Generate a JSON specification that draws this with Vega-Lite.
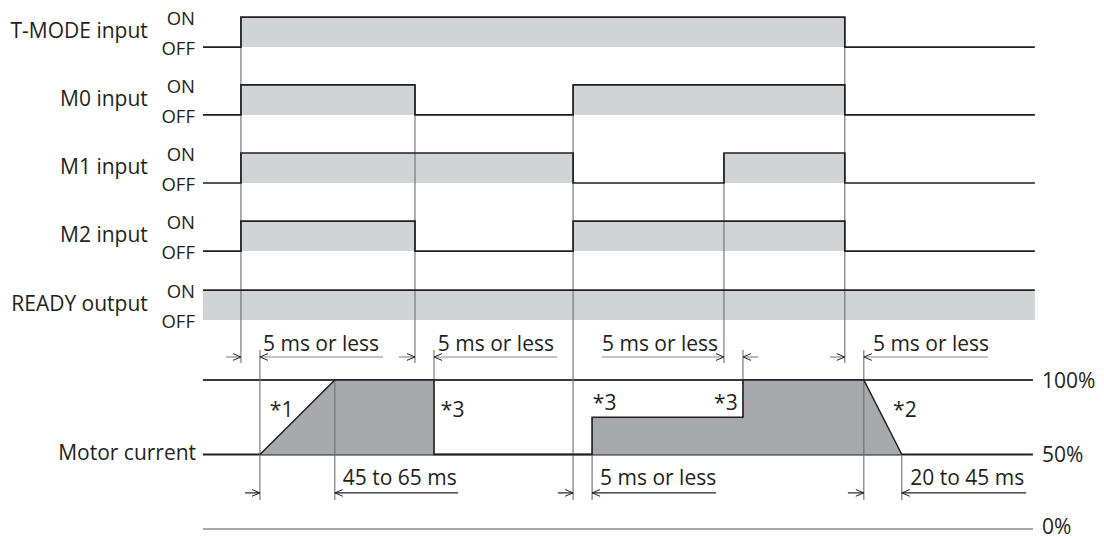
{
  "$schema": "https://vega.github.io/schema/vega-lite/v6.json",
  "width": 1104,
  "height": 540,
  "padding": 0,
  "autosize": {"type": "none"},
  "background": "white",
  "config": {"view": {"stroke": null}, "text": {"font": "Open Sans", "color": "#231f20"}},
  "datasets": {
    "signals": [
      {"signal": "T-MODE input", "t": -10, "y": 16.43},
      {"signal": "T-MODE input", "t": 0, "y": 17.43},
      {"signal": "T-MODE input", "t": 158.9, "y": 16.43},
      {"signal": "T-MODE input", "t": 208.9, "y": 16.43},
      {"signal": "M0 input", "t": -10, "y": 14.17},
      {"signal": "M0 input", "t": 0, "y": 15.17},
      {"signal": "M0 input", "t": 45.8, "y": 14.17},
      {"signal": "M0 input", "t": 87.4, "y": 15.17},
      {"signal": "M0 input", "t": 158.9, "y": 14.17},
      {"signal": "M0 input", "t": 208.9, "y": 14.17},
      {"signal": "M1 input", "t": -10, "y": 11.9},
      {"signal": "M1 input", "t": 0, "y": 12.9},
      {"signal": "M1 input", "t": 87.4, "y": 11.9},
      {"signal": "M1 input", "t": 127.1, "y": 12.9},
      {"signal": "M1 input", "t": 158.9, "y": 11.9},
      {"signal": "M1 input", "t": 208.9, "y": 11.9},
      {"signal": "M2 input", "t": -10, "y": 9.63},
      {"signal": "M2 input", "t": 0, "y": 10.63},
      {"signal": "M2 input", "t": 45.8, "y": 9.63},
      {"signal": "M2 input", "t": 87.4, "y": 10.63},
      {"signal": "M2 input", "t": 158.9, "y": 9.63},
      {"signal": "M2 input", "t": 208.9, "y": 9.63},
      {"signal": "READY output", "t": -10, "y": 8.33},
      {"signal": "READY output", "t": 208.9, "y": 8.33}
    ],
    "bands": [
      {"signal": "T-MODE input", "t0": 0, "t1": 158.9, "yOff": 16.43, "yOn": 17.43},
      {"signal": "M0 input", "t0": 0, "t1": 45.8, "yOff": 14.17, "yOn": 15.17},
      {"signal": "M0 input", "t0": 87.4, "t1": 158.9, "yOff": 14.17, "yOn": 15.17},
      {"signal": "M1 input", "t0": 0, "t1": 87.4, "yOff": 11.9, "yOn": 12.9},
      {"signal": "M1 input", "t0": 127.1, "t1": 158.9, "yOff": 11.9, "yOn": 12.9},
      {"signal": "M2 input", "t0": 0, "t1": 45.8, "yOff": 9.63, "yOn": 10.63},
      {"signal": "M2 input", "t0": 87.4, "t1": 158.9, "yOff": 9.63, "yOn": 10.63},
      {"signal": "READY output", "t0": -10, "t1": 208.9, "yOff": 7.33, "yOn": 8.33}
    ],
    "guides": [
      {"t": 0, "yTop": 17.43, "yBottom": 5.9},
      {"t": 45.8, "yTop": 15.17, "yBottom": 5.9},
      {"t": 87.4, "yTop": 15.17, "yBottom": 1.33},
      {"t": 127.1, "yTop": 12.9, "yBottom": 5.9},
      {"t": 158.9, "yTop": 17.43, "yBottom": 5.9},
      {"t": 5.0, "yTop": 6.33, "yBottom": 1.33},
      {"t": 24.7, "yTop": 5.33, "yBottom": 1.33},
      {"t": 50.8, "yTop": 6.33, "yBottom": 2.83},
      {"t": 92.4, "yTop": 4.1, "yBottom": 1.33},
      {"t": 132.1, "yTop": 6.33, "yBottom": 4.1},
      {"t": 163.9, "yTop": 6.33, "yBottom": 1.33},
      {"t": 173.9, "yTop": 2.83, "yBottom": 1.33}
    ],
    "dims": [
      {"row": "top", "t0": -3.9, "t1": 0, "y": 6.1},
      {"row": "top", "t0": 5.0, "t1": 37.4, "y": 6.1},
      {"row": "top", "t0": 41.6, "t1": 45.8, "y": 6.1},
      {"row": "top", "t0": 50.8, "t1": 83.2, "y": 6.1},
      {"row": "top", "t0": 95.0, "t1": 127.1, "y": 6.1},
      {"row": "top", "t0": 132.1, "t1": 136.1, "y": 6.1},
      {"row": "top", "t0": 155.0, "t1": 158.9, "y": 6.1},
      {"row": "top", "t0": 163.9, "t1": 196.6, "y": 6.1},
      {"row": "bottom", "t0": 1.1, "t1": 5.0, "y": 1.57},
      {"row": "bottom", "t0": 24.7, "t1": 57.1, "y": 1.57},
      {"row": "bottom", "t0": 83.4, "t1": 87.4, "y": 1.57},
      {"row": "bottom", "t0": 92.4, "t1": 125.0, "y": 1.57},
      {"row": "bottom", "t0": 159.7, "t1": 163.9, "y": 1.57},
      {"row": "bottom", "t0": 173.9, "t1": 206.6, "y": 1.57}
    ],
    "arrows": [
      {"t": 0, "y": 6.1, "dir": "right"},
      {"t": 5.0, "y": 6.1, "dir": "left"},
      {"t": 45.8, "y": 6.1, "dir": "right"},
      {"t": 50.8, "y": 6.1, "dir": "left"},
      {"t": 127.1, "y": 6.1, "dir": "right"},
      {"t": 132.1, "y": 6.1, "dir": "left"},
      {"t": 158.9, "y": 6.1, "dir": "right"},
      {"t": 163.9, "y": 6.1, "dir": "left"},
      {"t": 5.0, "y": 1.57, "dir": "right"},
      {"t": 24.7, "y": 1.57, "dir": "left"},
      {"t": 87.4, "y": 1.57, "dir": "right"},
      {"t": 92.4, "y": 1.57, "dir": "left"},
      {"t": 163.9, "y": 1.57, "dir": "right"},
      {"t": 173.9, "y": 1.57, "dir": "left"}
    ],
    "names": [
      {"text": "T-MODE input", "t": -24.5, "y": 16.73},
      {"text": "M0 input", "t": -24.5, "y": 14.47},
      {"text": "M1 input", "t": -24.5, "y": 12.2},
      {"text": "M2 input", "t": -24.5, "y": 9.93},
      {"text": "READY output", "t": -24.5, "y": 7.63}
    ],
    "states": [
      {"text": "ON", "t": -12.1, "y": 17.17},
      {"text": "OFF", "t": -12.1, "y": 16.17},
      {"text": "ON", "t": -12.1, "y": 14.9},
      {"text": "OFF", "t": -12.1, "y": 13.9},
      {"text": "ON", "t": -12.1, "y": 12.63},
      {"text": "OFF", "t": -12.1, "y": 11.63},
      {"text": "ON", "t": -12.1, "y": 10.37},
      {"text": "OFF", "t": -12.1, "y": 9.37},
      {"text": "ON", "t": -12.1, "y": 8.07},
      {"text": "OFF", "t": -12.1, "y": 7.07}
    ],
    "notes": [
      {"text": "5 ms or less", "t": 5.8, "y": 6.3},
      {"text": "5 ms or less", "t": 51.8, "y": 6.3},
      {"text": "5 ms or less", "t": 95.0, "y": 6.3},
      {"text": "5 ms or less", "t": 166.3, "y": 6.3},
      {"text": "45 to 65 ms", "t": 26.8, "y": 1.83},
      {"text": "5 ms or less", "t": 94.5, "y": 1.83},
      {"text": "20 to 45 ms", "t": 176.1, "y": 1.83},
      {"text": "*1", "t": 7.6, "y": 4.1},
      {"text": "*3", "t": 52.6, "y": 4.1},
      {"text": "*3", "t": 92.6, "y": 4.33},
      {"text": "*3", "t": 124.5, "y": 4.33},
      {"text": "*2", "t": 171.6, "y": 4.1}
    ],
    "current": [
      {"t": 5.0, "pct": 50},
      {"t": 24.7, "pct": 100},
      {"t": 50.8, "pct": 100},
      {"t": 50.8, "pct": 50},
      {"t": 92.4, "pct": 50},
      {"t": 92.4, "pct": 75},
      {"t": 132.1, "pct": 75},
      {"t": 132.1, "pct": 100},
      {"t": 163.9, "pct": 100},
      {"t": 173.9, "pct": 50}
    ],
    "levels": [
      {"level": 0, "label": "0%", "t0": -10, "t1": 208.4, "tl": 210.8},
      {"level": 50, "label": "50%", "t0": -10, "t1": 208.4, "tl": 210.8},
      {"level": 100, "label": "100%", "t0": -10, "t1": 208.4, "tl": 210.8}
    ],
    "currentLabel": [
      {"text": "Motor current", "t": -11.8, "pct": 50}
    ]
  },
  "layer": [
    {
      "layer": [
        {
          "data": {"name": "levels"},
          "mark": {"type": "rule"},
          "encoding": {
            "x": {"field": "t0", "type": "quantitative", "scale": {"domain": [-63.4, 227.1], "nice": false, "zero": false}, "axis": null},
            "x2": {"field": "t1"},
            "y": {"field": "level", "type": "quantitative", "scale": {"domain": [0, 100], "range": [529, 380], "nice": false, "zero": false}, "axis": null},
            "stroke": {"field": "label", "type": "nominal", "scale": {"domain": ["0%", "50%", "100%"], "range": ["#8a8a8a", "#231f20", "#3a3a3a"]}, "legend": null},
            "strokeWidth": {"field": "label", "type": "nominal", "scale": {"domain": ["0%", "50%", "100%"], "range": [1.6, 2.2, 1.1]}, "legend": null}
          }
        },
        {
          "data": {"name": "current"},
          "mark": {"type": "area", "color": "#a7a9ac", "opacity": 1},
          "encoding": {
            "x": {"field": "t", "type": "quantitative", "scale": {"domain": [-63.4, 227.1], "nice": false, "zero": false}, "axis": null},
            "y": {"field": "pct", "type": "quantitative", "scale": {"domain": [0, 100], "range": [529, 380], "nice": false, "zero": false}, "axis": null},
            "y2": {"datum": 50}
          }
        }
      ]
    },
    {
      "layer": [
        {
          "data": {"name": "bands"},
          "mark": {"type": "rect", "color": "#d1d3d4", "opacity": 1},
          "encoding": {
            "x": {"field": "t0", "type": "quantitative", "scale": {"domain": [-63.4, 227.1], "nice": false, "zero": false}, "axis": null},
            "x2": {"field": "t1"},
            "y": {"field": "yOff", "type": "quantitative", "scale": {"domain": [0, 18], "nice": false, "zero": false}, "axis": null},
            "y2": {"field": "yOn"}
          }
        },
        {
          "data": {"name": "guides"},
          "mark": {"type": "rule", "color": "#6d6e71", "strokeWidth": 1.1},
          "encoding": {
            "x": {"field": "t", "type": "quantitative", "scale": {"domain": [-63.4, 227.1], "nice": false, "zero": false}, "axis": null},
            "y": {"field": "yTop", "type": "quantitative", "scale": {"domain": [0, 18], "nice": false, "zero": false}, "axis": null},
            "y2": {"field": "yBottom"}
          }
        },
        {
          "data": {"name": "signals"},
          "mark": {"type": "line", "interpolate": "step-after", "color": "#231f20", "strokeWidth": 1.7},
          "encoding": {
            "x": {"field": "t", "type": "quantitative", "scale": {"domain": [-63.4, 227.1], "nice": false, "zero": false}, "axis": null},
            "y": {"field": "y", "type": "quantitative", "scale": {"domain": [0, 18], "nice": false, "zero": false}, "axis": null},
            "detail": {"field": "signal", "type": "nominal"}
          }
        },
        {
          "data": {"name": "dims"},
          "mark": {"type": "rule", "strokeWidth": 1.2},
          "encoding": {
            "x": {"field": "t0", "type": "quantitative", "scale": {"domain": [-63.4, 227.1], "nice": false, "zero": false}, "axis": null},
            "x2": {"field": "t1"},
            "y": {"field": "y", "type": "quantitative", "scale": {"domain": [0, 18], "nice": false, "zero": false}, "axis": null},
            "stroke": {"field": "row", "type": "nominal", "scale": {"domain": ["top", "bottom"], "range": ["#231f20", "#8a8a8a"]}, "legend": null}
          }
        },
        {
          "data": {"name": "arrows"},
          "mark": {"type": "point", "filled": false, "size": 256, "color": "#231f20", "strokeWidth": 1, "opacity": 1},
          "encoding": {
            "x": {"field": "t", "type": "quantitative", "scale": {"domain": [-63.4, 227.1], "nice": false, "zero": false}, "axis": null},
            "y": {"field": "y", "type": "quantitative", "scale": {"domain": [0, 18], "nice": false, "zero": false}, "axis": null},
            "shape": {"field": "dir", "type": "nominal", "scale": {"domain": ["right", "left"], "range": ["M-1,-0.42L0,0L-1,0.42", "M1,-0.42L0,0L1,0.42"]}, "legend": null}
          }
        },
        {
          "data": {"name": "names"},
          "mark": {"type": "text", "align": "right", "baseline": "alphabetic", "fontSize": 21, "font": "Open Sans", "color": "#231f20"},
          "encoding": {
            "x": {"field": "t", "type": "quantitative", "scale": {"domain": [-63.4, 227.1], "nice": false, "zero": false}, "axis": null},
            "y": {"field": "y", "type": "quantitative", "scale": {"domain": [0, 18], "nice": false, "zero": false}, "axis": null},
            "text": {"field": "text"}
          }
        },
        {
          "data": {"name": "states"},
          "mark": {"type": "text", "align": "right", "baseline": "alphabetic", "fontSize": 18.5, "font": "Open Sans", "color": "#231f20"},
          "encoding": {
            "x": {"field": "t", "type": "quantitative", "scale": {"domain": [-63.4, 227.1], "nice": false, "zero": false}, "axis": null},
            "y": {"field": "y", "type": "quantitative", "scale": {"domain": [0, 18], "nice": false, "zero": false}, "axis": null},
            "text": {"field": "text"}
          }
        },
        {
          "data": {"name": "notes"},
          "mark": {"type": "text", "align": "left", "baseline": "alphabetic", "fontSize": 21, "font": "Open Sans", "color": "#231f20"},
          "encoding": {
            "x": {"field": "t", "type": "quantitative", "scale": {"domain": [-63.4, 227.1], "nice": false, "zero": false}, "axis": null},
            "y": {"field": "y", "type": "quantitative", "scale": {"domain": [0, 18], "nice": false, "zero": false}, "axis": null},
            "text": {"field": "text"}
          }
        }
      ]
    },
    {
      "layer": [
        {
          "data": {"name": "current"},
          "mark": {"type": "line", "color": "#231f20", "strokeWidth": 1.5},
          "encoding": {
            "x": {"field": "t", "type": "quantitative", "scale": {"domain": [-63.4, 227.1], "nice": false, "zero": false}, "axis": null},
            "y": {"field": "pct", "type": "quantitative", "scale": {"domain": [0, 100], "range": [529, 380], "nice": false, "zero": false}, "axis": null}
          }
        },
        {
          "data": {"name": "levels"},
          "transform": [{"filter": "datum.level > 0"}],
          "mark": {"type": "text", "align": "left", "baseline": "alphabetic", "dy": 7.5, "fontSize": 21, "font": "Open Sans", "color": "#231f20"},
          "encoding": {
            "x": {"field": "tl", "type": "quantitative", "scale": {"domain": [-63.4, 227.1], "nice": false, "zero": false}, "axis": null},
            "y": {"field": "level", "type": "quantitative", "scale": {"domain": [0, 100], "range": [529, 380], "nice": false, "zero": false}, "axis": null},
            "text": {"field": "label"}
          }
        },
        {
          "data": {"name": "levels"},
          "transform": [{"filter": "datum.level == 0"}],
          "mark": {"type": "text", "align": "left", "baseline": "alphabetic", "dy": 4.5, "fontSize": 21, "font": "Open Sans", "color": "#231f20"},
          "encoding": {
            "x": {"field": "tl", "type": "quantitative", "scale": {"domain": [-63.4, 227.1], "nice": false, "zero": false}, "axis": null},
            "y": {"field": "level", "type": "quantitative", "scale": {"domain": [0, 100], "range": [529, 380], "nice": false, "zero": false}, "axis": null},
            "text": {"field": "label"}
          }
        },
        {
          "data": {"name": "currentLabel"},
          "mark": {"type": "text", "align": "right", "baseline": "alphabetic", "dy": 5, "fontSize": 21, "font": "Open Sans", "color": "#231f20"},
          "encoding": {
            "x": {"field": "t", "type": "quantitative", "scale": {"domain": [-63.4, 227.1], "nice": false, "zero": false}, "axis": null},
            "y": {"field": "pct", "type": "quantitative", "scale": {"domain": [0, 100], "range": [529, 380], "nice": false, "zero": false}, "axis": null},
            "text": {"field": "text"}
          }
        }
      ]
    }
  ],
  "resolve": {"scale": {"y": "independent"}}
}
